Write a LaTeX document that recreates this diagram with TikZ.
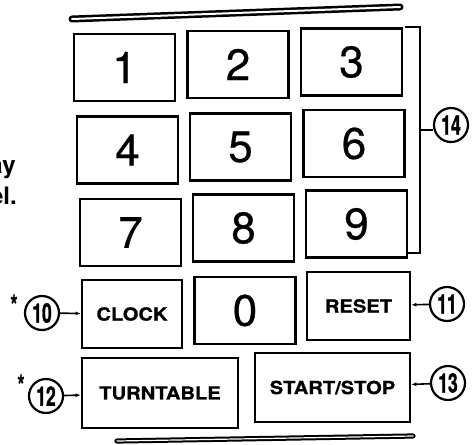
\documentclass[tikz,border=0pt]{standalone}
\usepackage{fontspec}
\setmainfont{TeX Gyre Heros}
\newfontfamily\keyfont{TeX Gyre Heros}[FakeStretch=1.12,FakeBold=0.8]
\newfontfamily\calloutfont{TeX Gyre Heros}[FakeStretch=0.65,FakeBold=1]
\newfontfamily\digitfont{TeX Gyre Heros}[FakeBold=0.6]
\usetikzlibrary{arrows.meta}
\tikzset{
  digitkey/.style={draw,line width=2.7pt,minimum width=101pt,minimum height=67pt,inner sep=0pt,font=\digitfont\fontsize{44}{44}\selectfont},
  wordkey/.style={draw,line width=2.7pt,minimum height=68pt,inner sep=0pt,font=\keyfont\bfseries\fontsize{18}{18}\selectfont},
  callout/.style={draw,circle,line width=2.2pt,minimum size=34pt,inner sep=0pt,font=\calloutfont\bfseries\fontsize{27}{27}\selectfont},
  lead/.style={line width=1.6pt,-{Latex[length=5pt,width=4pt]}},
  rail/.style={draw=black,double=white,line cap=round},
  bracketline/.style={line width=1.8pt},
  astmark/.style={font=\calloutfont\bfseries\fontsize{28}{28}\selectfont,anchor=base,inner sep=0pt},
  margintext/.style={font=\bfseries\fontsize{24}{24}\selectfont,anchor=base east,inner sep=0pt},
}

\begin{document}
\begin{tikzpicture}[x=1pt,y=1pt]
  \useasboundingbox (0,0) rectangle (473,-444);
  % panel rails
  \draw[rail,line width=2.5pt,double distance=2pt] (72,-19) -- (400,-7);
  \draw[rail,line width=2pt,double distance=1.2pt] (117,-441) -- (413,-436);
  % number pad
  \node[digitkey] (k1) at (124.5,-67.5) {1};
  \node[digitkey] (k2) at (238,-64.5) {2};
  \node[digitkey] (k3) at (351.5,-62) {3};
  \node[digitkey] (k4) at (127.5,-150) {4};
  \node[digitkey] (k5) at (240.5,-147) {5};
  \node[digitkey] (k6) at (354,-143.5) {6};
  \node[digitkey] (k7) at (130.5,-232.5) {7};
  \node[digitkey] (k8) at (243.5,-228) {8};
  \node[digitkey] (k9) at (356.5,-224) {9};
  \node[wordkey,minimum width=100pt] (clock) at (132,-314) {CLOCK};
  \node[digitkey] (k0) at (245,-310.5) {0};
  \node[wordkey,minimum width=103pt] (reset) at (358.5,-306) {RESET};
  \node[wordkey,minimum width=156pt,minimum height=70pt] (turntable) at (160,-393) {TURNTABLE};
  \node[wordkey,minimum width=155pt,minimum height=69pt] (startstop) at (332.5,-387.5) {START/STOP};
  % bracket round the digits
  \coordinate (brtop) at (405,-27);
  \coordinate (brmid) at (420,-130);
  \coordinate (brbot) at (408,-253);
  \draw[bracketline] (brtop) -- (brtop -| brmid) -- (brbot -| brmid) -- (brbot);
  % callouts
  \node[callout] (c14) at (451,-125) {14};
  \node[callout] (c10) at (42,-313) {10};
  \node[callout] (c11) at (447,-304) {11};
  \node[callout] (c12) at (46,-396) {12};
  \node[callout] (c13) at (448,-383) {13};
  \draw[line width=1.6pt] (brmid) -- (brmid -| c14.west);
  \draw[lead] (c10) -- (clock);
  \draw[lead] (c11) -- (reset);
  \draw[lead] (c12) -- (turntable);
  \draw[lead] (c13) -- (startstop);
  \node[astmark] (s10) at (14,-315) {*};
  \node[astmark] (s12) at (21,-395) {*};
  % cut-off side text
  \node[margintext] (m1) at (16,-173) {ay};
  \node[margintext] (m2) at (17,-204) {el.};
\end{tikzpicture}
\end{document}
